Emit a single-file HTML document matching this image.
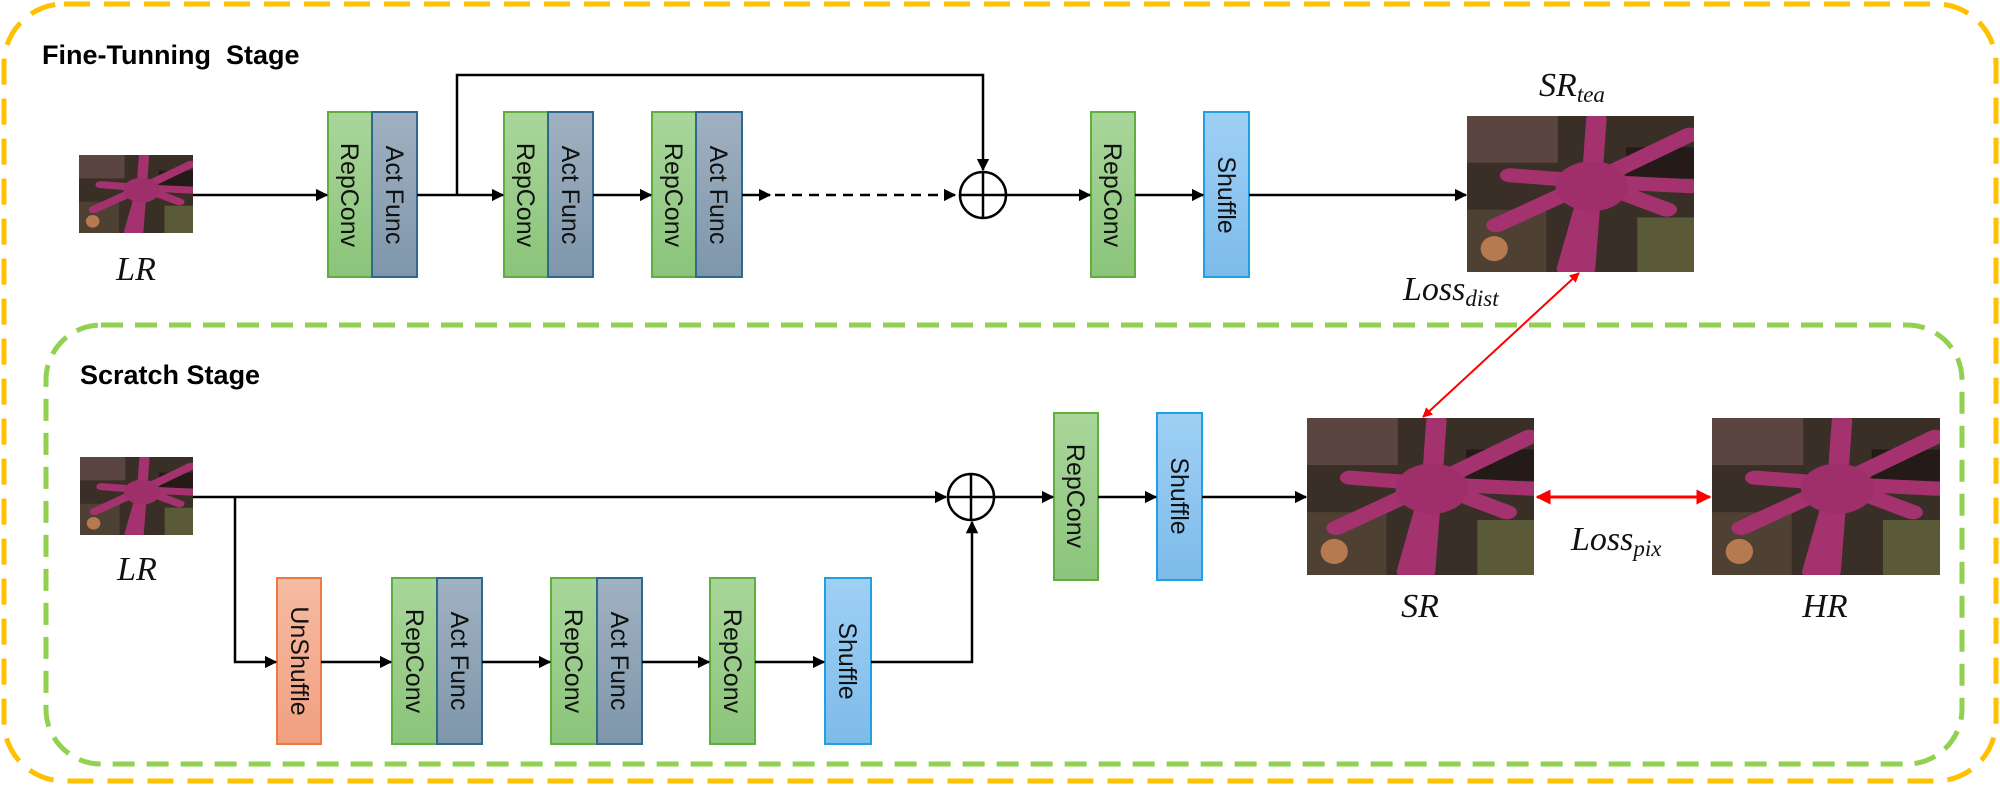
<!DOCTYPE html>
<html><head><meta charset="utf-8">
<style>
html,body{margin:0;padding:0;background:#fff;}
svg{display:block;}
.t{font-family:"Liberation Sans",sans-serif;font-size:25px;fill:#111;}
.m{font-family:"Liberation Serif",serif;font-style:italic;font-size:34px;fill:#111;}
.ms{font-family:"Liberation Serif",serif;font-style:italic;font-size:23px;fill:#111;}
.h{font-family:"Liberation Sans",sans-serif;font-weight:bold;font-size:27px;fill:#000;}
</style></head><body>
<svg width="2000" height="785" viewBox="0 0 2000 785" xmlns="http://www.w3.org/2000/svg">
<defs>
<marker id="a" viewBox="0 0 10 10" refX="9" refY="5" markerWidth="5" markerHeight="5" orient="auto-start-reverse"><path d="M0,0L10,5L0,10z" fill="#000"/></marker>
<marker id="r" viewBox="0 0 10 10" refX="9" refY="5" markerWidth="5" markerHeight="5" orient="auto-start-reverse"><path d="M0,0L10,5L0,10z" fill="#f00"/></marker>
<linearGradient id="g" x1="0" y1="0" x2="0" y2="1"><stop offset="0" stop-color="#a9d69b"/><stop offset="1" stop-color="#8bc47a"/></linearGradient>
<linearGradient id="b" x1="0" y1="0" x2="0" y2="1"><stop offset="0" stop-color="#a0b1c1"/><stop offset="1" stop-color="#7e96ab"/></linearGradient>
<linearGradient id="s" x1="0" y1="0" x2="0" y2="1"><stop offset="0" stop-color="#9fd0f5"/><stop offset="1" stop-color="#7dbbea"/></linearGradient>
<linearGradient id="o" x1="0" y1="0" x2="0" y2="1"><stop offset="0" stop-color="#f5bba3"/><stop offset="1" stop-color="#f29f80"/></linearGradient>
<symbol id="star" viewBox="0 0 100 100" preserveAspectRatio="none">
<rect width="100" height="100" fill="#3a2f27"/>
<rect x="0" y="0" width="40" height="30" fill="#5a4540"/>
<rect x="0" y="60" width="35" height="40" fill="#4e4033"/>
<rect x="75" y="65" width="25" height="35" fill="#5b5a38"/>
<rect x="70" y="20" width="30" height="20" fill="#241a18"/>
<ellipse cx="12" cy="85" rx="6" ry="8" fill="#b57a4f"/>
<g stroke="#a3326f" stroke-linecap="round" fill="none">
<path d="M55,42L57,2M55,42L98,12M55,42L99,45M55,42L88,60M55,42L44,98M55,42L52,98M55,42L13,70M55,42L19,38" stroke-width="9"/>
</g>
<circle cx="55" cy="45" r="16" fill="#9e2f6b"/>
</symbol>
</defs>

<rect x="4" y="4" width="1992" height="777" rx="60" ry="60" fill="none" stroke="#ffc000" stroke-width="5" stroke-dasharray="26,14"/>
<rect x="46" y="325" width="1916" height="439" rx="55" ry="55" fill="none" stroke="#92d050" stroke-width="5" stroke-dasharray="22,12"/>

<text class="h" x="42" y="64">Fine-Tunning&#160; Stage</text>
<text class="h" x="80" y="384">Scratch Stage</text>

<use href="#star" x="79" y="155" width="114" height="78"/>
<text class="m" x="136" y="280" text-anchor="middle">LR</text>

<g stroke-width="2">
<rect x="328" y="112" width="44" height="165" fill="url(#g)" stroke="#5fae3e"/>
<rect x="372" y="112" width="45" height="165" fill="url(#b)" stroke="#2e6a8e"/>
<rect x="504" y="112" width="44" height="165" fill="url(#g)" stroke="#5fae3e"/>
<rect x="548" y="112" width="45" height="165" fill="url(#b)" stroke="#2e6a8e"/>
<rect x="652" y="112" width="44" height="165" fill="url(#g)" stroke="#5fae3e"/>
<rect x="696" y="112" width="46" height="165" fill="url(#b)" stroke="#2e6a8e"/>
<rect x="1091" y="112" width="44" height="165" fill="url(#g)" stroke="#5fae3e"/>
<rect x="1204" y="112" width="45" height="165" fill="url(#s)" stroke="#1fa0e0"/>
</g>
<g class="t">
<text transform="translate(341,195) rotate(90)" text-anchor="middle">RepConv</text>
<text transform="translate(386,195) rotate(90)" text-anchor="middle">Act Func</text>
<text transform="translate(517,195) rotate(90)" text-anchor="middle">RepConv</text>
<text transform="translate(562,195) rotate(90)" text-anchor="middle">Act Func</text>
<text transform="translate(665,195) rotate(90)" text-anchor="middle">RepConv</text>
<text transform="translate(710,195) rotate(90)" text-anchor="middle">Act Func</text>
<text transform="translate(1104,195) rotate(90)" text-anchor="middle">RepConv</text>
<text transform="translate(1218,195) rotate(90)" text-anchor="middle">Shuffle</text>
</g>

<g stroke="#000" stroke-width="2.5" fill="none">
<line x1="193" y1="195" x2="327" y2="195" marker-end="url(#a)"/>
<line x1="417" y1="195" x2="503" y2="195" marker-end="url(#a)"/>
<line x1="593" y1="195" x2="651" y2="195" marker-end="url(#a)"/>
<line x1="742" y1="195" x2="770" y2="195" marker-end="url(#a)"/>
<line x1="775" y1="195" x2="955" y2="195" stroke-dasharray="10,7" marker-end="url(#a)"/>
<polyline points="457,195 457,75 983,75 983,170" marker-end="url(#a)"/>
<circle cx="983" cy="195" r="23"/>
<line x1="960" y1="195" x2="1006" y2="195"/>
<line x1="983" y1="172" x2="983" y2="218"/>
<line x1="1006" y1="195" x2="1090" y2="195" marker-end="url(#a)"/>
<line x1="1135" y1="195" x2="1203" y2="195" marker-end="url(#a)"/>
<line x1="1249" y1="195" x2="1466" y2="195" marker-end="url(#a)"/>
</g>

<use href="#star" x="1467" y="116" width="227" height="156"/>
<text class="m" x="1572" y="96" text-anchor="middle">SR<tspan class="ms" dy="6">tea</tspan></text>
<text class="m" x="1403" y="300">Loss<tspan class="ms" dy="6">dist</tspan></text>

<use href="#star" x="80" y="457" width="113" height="78"/>
<text class="m" x="137" y="580" text-anchor="middle">LR</text>

<g stroke-width="2">
<rect x="277" y="578" width="44" height="166" fill="url(#o)" stroke="#ec7a40"/>
<rect x="392" y="578" width="45" height="166" fill="url(#g)" stroke="#5fae3e"/>
<rect x="437" y="578" width="45" height="166" fill="url(#b)" stroke="#2e6a8e"/>
<rect x="551" y="578" width="46" height="166" fill="url(#g)" stroke="#5fae3e"/>
<rect x="597" y="578" width="45" height="166" fill="url(#b)" stroke="#2e6a8e"/>
<rect x="710" y="578" width="45" height="166" fill="url(#g)" stroke="#5fae3e"/>
<rect x="825" y="578" width="46" height="166" fill="url(#s)" stroke="#1fa0e0"/>
<rect x="1054" y="413" width="44" height="167" fill="url(#g)" stroke="#5fae3e"/>
<rect x="1157" y="413" width="45" height="167" fill="url(#s)" stroke="#1fa0e0"/>
</g>
<g class="t">
<text transform="translate(291,661) rotate(90)" text-anchor="middle">UnShuffle</text>
<text transform="translate(406,661) rotate(90)" text-anchor="middle">RepConv</text>
<text transform="translate(451,661) rotate(90)" text-anchor="middle">Act Func</text>
<text transform="translate(565,661) rotate(90)" text-anchor="middle">RepConv</text>
<text transform="translate(611,661) rotate(90)" text-anchor="middle">Act Func</text>
<text transform="translate(724,661) rotate(90)" text-anchor="middle">RepConv</text>
<text transform="translate(839,661) rotate(90)" text-anchor="middle">Shuffle</text>
<text transform="translate(1067,496) rotate(90)" text-anchor="middle">RepConv</text>
<text transform="translate(1171,496) rotate(90)" text-anchor="middle">Shuffle</text>
</g>

<g stroke="#000" stroke-width="2.5" fill="none">
<line x1="193" y1="497" x2="946" y2="497" marker-end="url(#a)"/>
<polyline points="235,497 235,662 276,662" marker-end="url(#a)"/>
<line x1="321" y1="662" x2="391" y2="662" marker-end="url(#a)"/>
<line x1="482" y1="662" x2="550" y2="662" marker-end="url(#a)"/>
<line x1="642" y1="662" x2="709" y2="662" marker-end="url(#a)"/>
<line x1="755" y1="662" x2="824" y2="662" marker-end="url(#a)"/>
<polyline points="871,662 972,662 972,522" marker-end="url(#a)"/>
<circle cx="971" cy="497" r="23"/>
<line x1="948" y1="497" x2="994" y2="497"/>
<line x1="971" y1="474" x2="971" y2="520"/>
<line x1="994" y1="497" x2="1053" y2="497" marker-end="url(#a)"/>
<line x1="1098" y1="497" x2="1156" y2="497" marker-end="url(#a)"/>
<line x1="1202" y1="497" x2="1306" y2="497" marker-end="url(#a)"/>
</g>

<use href="#star" x="1307" y="418" width="227" height="157"/>
<use href="#star" x="1712" y="418" width="228" height="157"/>
<text class="m" x="1420" y="617" text-anchor="middle">SR</text>
<text class="m" x="1825" y="617" text-anchor="middle">HR</text>
<text class="m" x="1571" y="550">Loss<tspan class="ms" dy="6">pix</tspan></text>

<g stroke="#f00" fill="none">
<line x1="1579" y1="273" x2="1423" y2="417" stroke-width="2" marker-start="url(#r)" marker-end="url(#r)"/>
<line x1="1537" y1="497" x2="1710" y2="497" stroke-width="3" marker-start="url(#r)" marker-end="url(#r)"/>
</g>
</svg>
</body></html>
